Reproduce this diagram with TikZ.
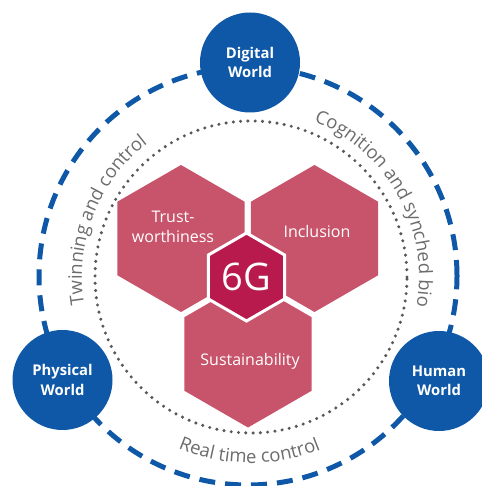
\documentclass[tikz,border=0pt]{standalone}
\usepackage{fontspec}
\setmainfont{Open Sans}
\usetikzlibrary{shapes.geometric,decorations.text}
\definecolor{worldblue}{RGB}{14,88,167}
\definecolor{hexpink}{RGB}{200,84,108}
\definecolor{hexcore}{RGB}{184,26,78}
\definecolor{arcgray}{RGB}{108,108,108}
\definecolor{dotgray}{RGB}{88,88,88}
\begin{document}
\begin{tikzpicture}[x=1pt,y=1pt,
  world/.style={circle, fill=worldblue, minimum size=100pt, inner sep=0pt, text=white,
    font=\bfseries\fontsize{14.8}{19.5}\selectfont, align=center},
  hexbox/.style={regular polygon, regular polygon sides=6, shape border rotate=30,
    minimum size=147pt, inner sep=0pt, fill=hexpink},
  hextext/.style={text=white, font=\fontsize{16}{20}\selectfont, align=center, inner sep=0pt},
  corehex/.style={regular polygon, regular polygon sides=6, shape border rotate=30,
    minimum size=88pt, inner sep=0pt, fill=hexcore, draw=white, line width=3pt,
    text=white, font=\fontsize{38}{38}\selectfont},
  ringdash/.style={draw=worldblue, line width=5pt, dash pattern=on 16pt off 10pt},
  ringdot/.style={draw=dotgray, line width=3.4pt, line cap=round, dash pattern=on 0pt off 7.3pt},
  arclabel/.style={decorate, decoration={text along path, text align=center,
    text color=arcgray, text={|\fontsize{18.5}{18.5}\selectfont|#1}}}
]
\useasboundingbox (0,0) rectangle (481,486);
\coordinate (ctr) at (251,209);
\draw[ringdash] (248,210) circle[radius=209];
\draw[ringdot] (ctr) circle[radius=156];

\path[arclabel={Twinning and control}] (ctr) ++(200:169) arc[start angle=200, end angle=117, radius=169];
\path[arclabel={Cognition and synched bio}] (ctr) ++(80:168) arc[start angle=80, end angle=-22, radius=168];
\path[arclabel={Real time control}] (ctr) ++(-132:186) arc[start angle=-132, end angle=-49, radius=186];

\node[hexbox] (trust) at (181,247.5) {};
\node[hexbox] (incl) at (314.5,247.5) {};
\node[hexbox] (sust) at (248,132) {};
\node[corehex] (core) at (246.5,209) {6G};
\node[hextext] (trustlbl) at (173,259) {Trust-\\worthiness};
\node[hextext] (incllbl) at (317,254) {Inclusion};
\node[hextext] (sustlbl) at (250,125) {Sustainability};

\node[world] (digital) at (250,423.5) {Digital\\World};
\node[world] (physical) at (62.5,106) {Physical\\World};
\node[world] (human) at (439,105) {Human\\World};
\end{tikzpicture}
\end{document}
